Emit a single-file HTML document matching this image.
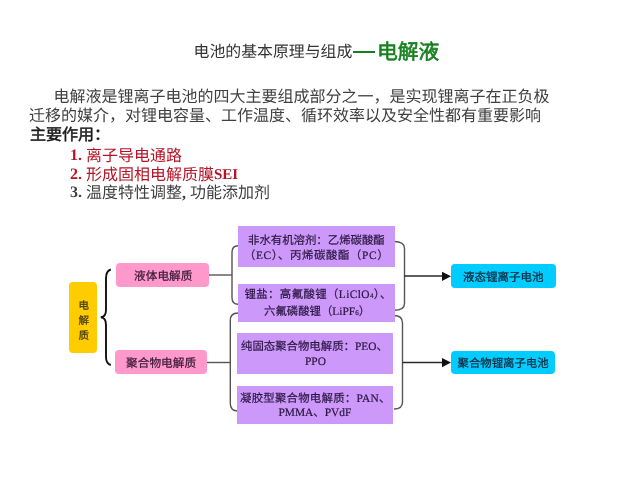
<!DOCTYPE html>
<html lang="zh-CN">
<head>
<meta charset="utf-8">
<style>
html,body{margin:0;padding:0;background:#fff;}
body>*{filter:blur(0.3px);}
body{width:640px;height:480px;position:relative;overflow:hidden;font-family:"Liberation Serif",serif;color:#222;text-rendering:geometricPrecision;}
.t{position:absolute;white-space:nowrap;line-height:1;}
.box{position:absolute;box-sizing:border-box;}
.pk{background:#ff99cc;border-radius:4px;color:#3a2336;font-size:11.5px;text-align:center;}
.pu{background:#cc99fa;color:#2a1a3c;font-size:11.5px;}
.cy{background:#00ccff;border-radius:4px;color:#1a2a33;font-size:11.5px;text-align:center;}
.yl{background:#ffcc00;border-radius:4px;color:#5a4a10;font-size:11.5px;}
svg{position:absolute;left:0;top:0;}
.la{font-style:normal;font-size:11.4px;}
.d{position:relative;top:-1px;}
.n{font-weight:bold;}
</style>
</head>
<body>
<!-- title -->
<div class="t" style="left:193.5px;top:45px;font-size:15.9px;color:#333;">电池的基本原理与组成</div>
<div style="position:absolute;left:353px;top:51px;width:22px;height:2px;background:#16801f;"></div>
<div class="t" style="left:377px;top:42.75px;font-size:20.8px;color:#16801f;font-weight:normal;-webkit-text-stroke:0.6px #16801f;">电解液</div>

<!-- paragraph -->
<div class="t" style="left:53.5px;top:90px;font-size:16px;color:#404040;">电解液是锂离子电池的四大主要组成部分之一，是实现锂离子在正负极</div>
<div class="t" style="left:29px;top:109px;font-size:16px;color:#404040;">迁移的媒介，对锂电容量、工作温度、循环效率以及安全性都有重要影响</div>
<div class="t" style="left:30px;top:128px;font-size:16px;color:#1a1a1a;font-weight:normal;-webkit-text-stroke:0.5px #1a1a1a;">主要作用：</div>
<div class="t" style="left:70px;top:149px;font-size:16px;color:#b31426;"><b class="d n">1.</b> 离子导电通路</div>
<div class="t" style="left:70px;top:168px;font-size:16px;color:#b31426;"><b class="d n">2.</b> 形成固相电解质膜<b class="d" style="font-size:15px">SEI</b></div>
<div class="t" style="left:70px;top:186px;font-size:16px;color:#404040;"><b class="d n">3.</b> 温度特性调整<b>,</b> 功能添加剂</div>

<!-- diagram lines -->
<svg width="640" height="480" viewBox="0 0 640 480">
  <!-- brace -->
  <path d="M110.8 269.5 C107.5 270.5 106 273 106 278 L106 310 C106 314.5 104.5 317 100.8 317.3 C104.5 317.6 106 320 106 325 L106 357 C106 361 107.5 364 110.8 365" fill="none" stroke="#111" stroke-width="1.9"/>
  <g fill="none" stroke="#555" stroke-width="1.4">
    <!-- pink1 to bracket -->
    <path d="M209 275 L232 275"/>
    <path d="M238 245.8 Q232 245.8 232 252.5 L232 297.5 Q232 304.3 238 304.3"/>
    <path d="M207 362.5 L230.3 362.5"/>
    <path d="M238 313 Q230.3 313 230.3 320.5 L230.3 403.5 Q230.3 411 238 411"/>
    <!-- right brackets -->
    <path d="M394 241.5 Q404.5 241.5 404.5 248.5 L404.5 303.5 Q404.5 310.3 394 310.3"/>
    <path d="M394 315.5 Q402.5 315.5 402.5 323 L402.5 402 Q402.5 409 394 409"/>
  </g>
  <g stroke="#2a2a2a" stroke-width="1.4" fill="none">
    <path d="M404.5 276 L442 276"/>
    <path d="M402.5 362.5 L442 362.5"/>
  </g>
  <path d="M442 271.8 L451 276.3 L442 281 Z" fill="#111"/>
  <path d="M442 358 L451 362.5 L442 367.2 Z" fill="#111"/>
</svg>

<!-- yellow -->
<div class="box yl" style="left:69px;top:282px;width:28px;height:71px;"></div>
<div class="t" style="left:78.5px;top:299px;font-size:10.5px;color:#4a4010;line-height:15px;white-space:normal;width:12px;-webkit-text-stroke:0.3px #4a4010;">电<br>解<br>质</div>

<!-- pink -->
<div class="box pk" style="left:116px;top:263px;width:93px;height:24px;"></div>
<div class="t" style="left:134px;top:271px;font-size:11.7px;color:#3a1a36;-webkit-text-stroke:0.25px #3a1a36;">液体电解质</div>
<div class="box pk" style="left:115px;top:350px;width:92px;height:24px;"></div>
<div class="t" style="left:126px;top:358px;font-size:11.7px;color:#3a1a36;-webkit-text-stroke:0.25px #3a1a36;">聚合物电解质</div>

<!-- purple -->
<div class="box pu" style="left:238px;top:226px;width:157px;height:41px;"></div>
<div class="t" style="left:248px;top:235.5px;font-size:11.4px;color:#2a1640;-webkit-text-stroke:0.2px #2a1640;">非水有机溶剂：乙烯碳酸酯</div>
<div class="t" style="left:244px;top:250.5px;font-size:11.4px;color:#2a1640;-webkit-text-stroke:0.2px #2a1640;letter-spacing:0.6px;">（<i class="la">EC</i>）、丙烯碳酸酯（<i class="la">PC</i>）</div>

<div class="box pu" style="left:238px;top:284px;width:157px;height:37.5px;"></div>
<div class="t" style="left:244.5px;top:290.0px;font-size:11.4px;color:#2a1640;-webkit-text-stroke:0.2px #2a1640;letter-spacing:0.4px;">锂盐：高氟酸锂（<i class="la">LiClO<span style="font-size:7px">4</span></i>）、</div>
<div class="t" style="left:264px;top:307.0px;font-size:11.4px;color:#2a1640;-webkit-text-stroke:0.2px #2a1640;">六氟磷酸锂（<i class="la">LiPF<span style="font-size:7px">6</span></i>）</div>

<div class="box pu" style="left:237px;top:333px;width:156px;height:41px;"></div>
<div class="t" style="left:241px;top:341.75px;font-size:11.4px;color:#2a1640;-webkit-text-stroke:0.2px #2a1640;">纯固态聚合物电解质：<i class="la">PEO</i>、</div>
<div class="t" style="left:305px;top:356.5px;font-size:11.4px;color:#2a1640;-webkit-text-stroke:0.2px #2a1640;"><i class="la">PPO</i></div>

<div class="box pu" style="left:237px;top:386px;width:156px;height:38px;"></div>
<div class="t" style="left:240px;top:393.5px;font-size:11.4px;color:#2a1640;-webkit-text-stroke:0.2px #2a1640;letter-spacing:0.25px;">凝胶型聚合物电解质：<i class="la">PAN</i>、</div>
<div class="t" style="left:278.5px;top:408.0px;font-size:11.4px;color:#2a1640;-webkit-text-stroke:0.2px #2a1640;"><i class="la">PMMA</i>、<i class="la">PVdF</i></div>

<!-- cyan -->
<div class="box cy" style="left:451px;top:264px;width:105px;height:24px;"></div>
<div class="t" style="left:463px;top:273px;font-size:11.5px;color:#10283a;-webkit-text-stroke:0.25px #10283a;">液态锂离子电池</div>
<div class="box cy" style="left:451px;top:350.5px;width:104px;height:23.5px;"></div>
<div class="t" style="left:457.5px;top:359px;font-size:11.4px;color:#10283a;-webkit-text-stroke:0.25px #10283a;">聚合物锂离子电池</div>
</body>
</html>
